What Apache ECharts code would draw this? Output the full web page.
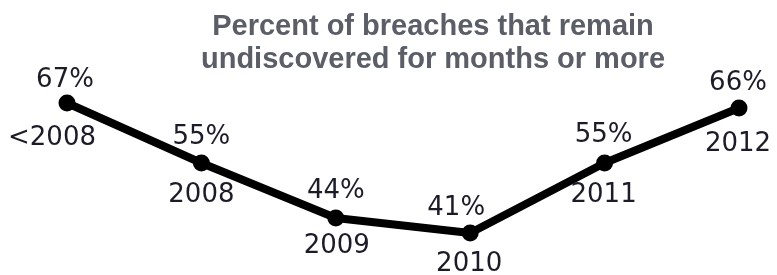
<!DOCTYPE html>
<html>
<head>
<meta charset="utf-8">
<script src="https://cdn.jsdelivr.net/npm/echarts@6/dist/echarts.min.js"></script>
<style>
html,body{margin:0;padding:0;background:#fff;}
#chart{width:777px;height:275px;}
</style>
</head>
<body>
<div id="chart"></div>
<script>
var categories = ['<2008', '2008', '2009', '2010', '2011', '2012'];
var percentValues = [67, 55, 44, 41, 55, 66];

// label placement relative to each point (layout only)
var percentLabelOffsets = [[-2, -23], [0, -26], [0, -27], [-14, -25], [-1, -28], [-1, -25]];
var yearLabelOffsets = [[-15, 35], [0, 32], [1, 28], [-1, 31], [-1, 32], [-1, 36]];

var labelFont = {
    fontFamily: 'DejaVu Sans',
    fontSize: 26,
    color: '#1c1c28'
};

var breachChart = {
    option: null,
    chart: null,
    initData: function (div) {
        this.chart = echarts.init(div);
        var lineData = [], yearData = [];
        for (var i = 0; i < percentValues.length; i++) {
            lineData.push({
                value: percentValues[i],
                label: { offset: percentLabelOffsets[i] }
            });
            yearData.push({
                value: percentValues[i],
                label: { offset: yearLabelOffsets[i] }
            });
        }
        this.option = {
            animation: false,
            title: {
                text: 'Percent of breaches that remain\nundiscovered for months or more',
                left: 428,
                top: 5,
                textAlign: 'center',
                textStyle: {
                    fontFamily: 'Liberation Sans',
                    fontWeight: 'bold',
                    fontSize: 29,
                    lineHeight: 33,
                    color: '#5b5e67'
                }
            },
            grid: { left: 67, right: 38, top: 88, bottom: 37 },
            xAxis: {
                type: 'category',
                data: categories,
                boundaryGap: false,
                show: false
            },
            yAxis: {
                type: 'value',
                min: 40,
                max: 70,
                show: false
            },
            series: [
                {
                    type: 'line',
                    data: lineData,
                    symbol: 'circle',
                    symbolSize: 17,
                    itemStyle: { color: '#000' },
                    lineStyle: { color: '#000', width: 8 },
                    label: {
                        show: true,
                        position: 'inside',
                        align: 'center',
                        verticalAlign: 'middle',
                        formatter: '{c}%',
                        fontFamily: labelFont.fontFamily,
                        fontSize: labelFont.fontSize,
                        color: labelFont.color
                    }
                },
                {
                    type: 'line',
                    data: yearData,
                    symbol: 'circle',
                    symbolSize: 17,
                    itemStyle: { color: 'rgba(0,0,0,0)' },
                    lineStyle: { width: 0, color: 'rgba(0,0,0,0)' },
                    silent: true,
                    z: 3,
                    label: {
                        show: true,
                        position: 'inside',
                        align: 'center',
                        verticalAlign: 'middle',
                        formatter: '{b}',
                        fontFamily: labelFont.fontFamily,
                        fontSize: labelFont.fontSize,
                        color: labelFont.color
                    }
                }
            ]
        };
        this.view();
    },
    view: function () {
        this.chart.setOption(this.option, true);
    }
};

breachChart.initData(document.getElementById('chart'));
</script>
</body>
</html>
